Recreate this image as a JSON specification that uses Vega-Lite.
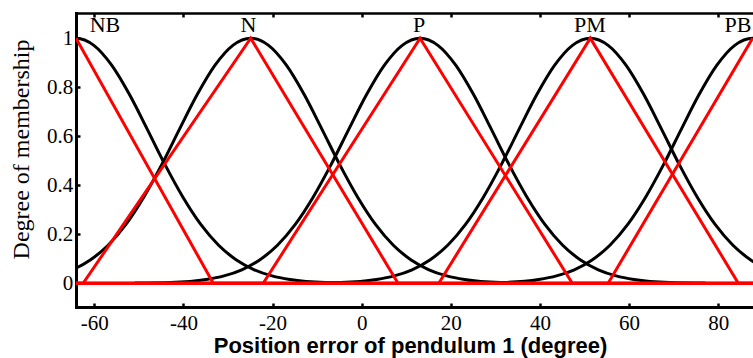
{
  "$schema": "https://vega.github.io/schema/vega-lite/v6.json",
  "width": 677,
  "height": 294,
  "autosize": "none",
  "padding": {"left": 76, "top": 13, "right": 0, "bottom": 51},
  "background": "white",
  "config": {"view": {"stroke": null}, "font": "Liberation Serif"},
  "datasets": {
    "gauss": [
      {"set": "NB", "x": -68.1, "mu": 0.971}, {"set": "NB", "x": -64.1, "mu": 1}, {"set": "NB", "x": -60.1, "mu": 0.971},
      {"set": "NB", "x": -56.1, "mu": 0.89}, {"set": "NB", "x": -52.1, "mu": 0.77}, {"set": "NB", "x": -48.1, "mu": 0.628},
      {"set": "NB", "x": -44.1, "mu": 0.483}, {"set": "NB", "x": -40.1, "mu": 0.351}, {"set": "NB", "x": -36.1, "mu": 0.24},
      {"set": "NB", "x": -32.1, "mu": 0.155}, {"set": "NB", "x": -28.1, "mu": 0.095}, {"set": "NB", "x": -24.1, "mu": 0.055},
      {"set": "NB", "x": -20.1, "mu": 0.03}, {"set": "NB", "x": -16.1, "mu": 0.015}, {"set": "NB", "x": -8.1, "mu": 0.003},
      {"set": "NB", "x": -0.1, "mu": 0.001},

      {"set": "N", "x": -68.9, "mu": 0.03}, {"set": "N", "x": -64.9, "mu": 0.055}, {"set": "N", "x": -60.9, "mu": 0.095},
      {"set": "N", "x": -56.9, "mu": 0.155}, {"set": "N", "x": -52.9, "mu": 0.24}, {"set": "N", "x": -48.9, "mu": 0.351},
      {"set": "N", "x": -44.9, "mu": 0.483}, {"set": "N", "x": -40.9, "mu": 0.628}, {"set": "N", "x": -36.9, "mu": 0.77},
      {"set": "N", "x": -32.9, "mu": 0.89}, {"set": "N", "x": -28.9, "mu": 0.971}, {"set": "N", "x": -24.9, "mu": 1},
      {"set": "N", "x": -20.9, "mu": 0.971}, {"set": "N", "x": -16.9, "mu": 0.89}, {"set": "N", "x": -12.9, "mu": 0.77},
      {"set": "N", "x": -8.9, "mu": 0.628}, {"set": "N", "x": -4.9, "mu": 0.483}, {"set": "N", "x": -0.9, "mu": 0.351},
      {"set": "N", "x": 3.1, "mu": 0.24}, {"set": "N", "x": 7.1, "mu": 0.155}, {"set": "N", "x": 11.1, "mu": 0.095},
      {"set": "N", "x": 15.1, "mu": 0.055}, {"set": "N", "x": 19.1, "mu": 0.03}, {"set": "N", "x": 23.1, "mu": 0.015},
      {"set": "N", "x": 31.1, "mu": 0.003}, {"set": "N", "x": 39.1, "mu": 0.001},

      {"set": "P", "x": -50.9, "mu": 0.001}, {"set": "P", "x": -42.9, "mu": 0.003}, {"set": "P", "x": -34.9, "mu": 0.015},
      {"set": "P", "x": -30.9, "mu": 0.03}, {"set": "P", "x": -26.9, "mu": 0.055}, {"set": "P", "x": -22.9, "mu": 0.095},
      {"set": "P", "x": -18.9, "mu": 0.155}, {"set": "P", "x": -14.9, "mu": 0.24}, {"set": "P", "x": -10.9, "mu": 0.351},
      {"set": "P", "x": -6.9, "mu": 0.483}, {"set": "P", "x": -2.9, "mu": 0.628}, {"set": "P", "x": 1.1, "mu": 0.77},
      {"set": "P", "x": 5.1, "mu": 0.89}, {"set": "P", "x": 9.1, "mu": 0.971}, {"set": "P", "x": 13.1, "mu": 1},
      {"set": "P", "x": 17.1, "mu": 0.971}, {"set": "P", "x": 21.1, "mu": 0.89}, {"set": "P", "x": 25.1, "mu": 0.77},
      {"set": "P", "x": 29.1, "mu": 0.628}, {"set": "P", "x": 33.1, "mu": 0.483}, {"set": "P", "x": 37.1, "mu": 0.351},
      {"set": "P", "x": 41.1, "mu": 0.24}, {"set": "P", "x": 45.1, "mu": 0.155}, {"set": "P", "x": 49.1, "mu": 0.095},
      {"set": "P", "x": 53.1, "mu": 0.055}, {"set": "P", "x": 57.1, "mu": 0.03}, {"set": "P", "x": 61.1, "mu": 0.015},
      {"set": "P", "x": 69.1, "mu": 0.003}, {"set": "P", "x": 77.1, "mu": 0.001},

      {"set": "PM", "x": -12.7, "mu": 0.001}, {"set": "PM", "x": -4.7, "mu": 0.003}, {"set": "PM", "x": 3.3, "mu": 0.015},
      {"set": "PM", "x": 7.3, "mu": 0.03}, {"set": "PM", "x": 11.3, "mu": 0.055}, {"set": "PM", "x": 15.3, "mu": 0.095},
      {"set": "PM", "x": 19.3, "mu": 0.155}, {"set": "PM", "x": 23.3, "mu": 0.24}, {"set": "PM", "x": 27.3, "mu": 0.351},
      {"set": "PM", "x": 31.3, "mu": 0.483}, {"set": "PM", "x": 35.3, "mu": 0.628}, {"set": "PM", "x": 39.3, "mu": 0.77},
      {"set": "PM", "x": 43.3, "mu": 0.89}, {"set": "PM", "x": 47.3, "mu": 0.971}, {"set": "PM", "x": 51.3, "mu": 1},
      {"set": "PM", "x": 55.3, "mu": 0.971}, {"set": "PM", "x": 59.3, "mu": 0.89}, {"set": "PM", "x": 63.3, "mu": 0.77},
      {"set": "PM", "x": 67.3, "mu": 0.628}, {"set": "PM", "x": 71.3, "mu": 0.483}, {"set": "PM", "x": 75.3, "mu": 0.351},
      {"set": "PM", "x": 79.3, "mu": 0.24}, {"set": "PM", "x": 83.3, "mu": 0.155}, {"set": "PM", "x": 87.3, "mu": 0.095},
      {"set": "PM", "x": 91.3, "mu": 0.055},

      {"set": "PB", "x": 23.7, "mu": 0.001}, {"set": "PB", "x": 31.7, "mu": 0.003}, {"set": "PB", "x": 39.7, "mu": 0.015},
      {"set": "PB", "x": 43.7, "mu": 0.03}, {"set": "PB", "x": 47.7, "mu": 0.055}, {"set": "PB", "x": 51.7, "mu": 0.095},
      {"set": "PB", "x": 55.7, "mu": 0.155}, {"set": "PB", "x": 59.7, "mu": 0.24}, {"set": "PB", "x": 63.7, "mu": 0.351},
      {"set": "PB", "x": 67.7, "mu": 0.483}, {"set": "PB", "x": 71.7, "mu": 0.628}, {"set": "PB", "x": 75.7, "mu": 0.77},
      {"set": "PB", "x": 79.7, "mu": 0.89}, {"set": "PB", "x": 83.7, "mu": 0.971}, {"set": "PB", "x": 87.7, "mu": 1},
      {"set": "PB", "x": 91.7, "mu": 0.971}
    ],
    "tri": [
      {"set": "NB", "x": -64.1, "mu": 1}, {"set": "NB", "x": -33.3, "mu": 0}, {"set": "NB", "x": 87.8, "mu": 0},
      {"set": "N", "x": -64.1, "mu": 0}, {"set": "N", "x": -62.5, "mu": 0}, {"set": "N", "x": -24.9, "mu": 1},
      {"set": "N", "x": 8.15, "mu": 0}, {"set": "N", "x": 87.8, "mu": 0},
      {"set": "P", "x": -64.1, "mu": 0}, {"set": "P", "x": -22.1, "mu": 0}, {"set": "P", "x": 13.1, "mu": 1},
      {"set": "P", "x": 47.25, "mu": 0}, {"set": "P", "x": 87.8, "mu": 0},
      {"set": "PM", "x": -64.1, "mu": 0}, {"set": "PM", "x": 17.3, "mu": 0}, {"set": "PM", "x": 51.3, "mu": 1},
      {"set": "PM", "x": 84.5, "mu": 0}, {"set": "PM", "x": 87.8, "mu": 0},
      {"set": "PB", "x": -64.1, "mu": 0}, {"set": "PB", "x": 55.3, "mu": 0}, {"set": "PB", "x": 87.7, "mu": 1}
    ],
    "labels": [
      {"label": "NB", "x": -57.6, "mu": 1.027},
      {"label": "N", "x": -25.4, "mu": 1.027},
      {"label": "P", "x": 12.9, "mu": 1.027},
      {"label": "PM", "x": 51.2, "mu": 1.027},
      {"label": "PB", "x": 84.4, "mu": 1.027}
    ]
  },
  "layer": [
    {
      "data": {"name": "gauss"},
      "mark": {"type": "line", "color": "#000000", "strokeWidth": 3, "interpolate": "monotone", "clip": true},
      "encoding": {
        "x": {
          "field": "x", "type": "quantitative",
          "scale": {"domain": [-64.1, 87.8], "nice": false, "zero": false},
          "axis": {
            "orient": "bottom", "values": [-60, -40, -20, 0, 20, 40, 60, 80],
            "labelExpr": "'' + datum.value", "grid": false,
            "tickSize": -4, "tickWidth": 2.5, "tickColor": "#000000",
            "domainColor": "#000000", "domainWidth": 3, "domainCap": "square",
            "labelFont": "Liberation Serif", "labelFontSize": 21, "labelColor": "#000000",
            "labelPadding": 9.2, "labelFlush": false, "labelOverlap": false,
            "title": "Position error of pendulum 1 (degree)",
            "titleFont": "Liberation Sans", "titleFontSize": 22, "titleFontWeight": "bold", "titleColor": "#000000",
            "titleX": 334, "titleY": 45, "titleAlign": "center", "titleBaseline": "alphabetic"
          }
        },
        "y": {
          "field": "mu", "type": "quantitative",
          "scale": {"domain": [-0.097, 1.103], "nice": false, "zero": false},
          "axis": {
            "orient": "left", "values": [0, 0.2, 0.4, 0.6, 0.8, 1], "format": "~g", "grid": false,
            "tickSize": -4, "tickWidth": 2.5, "tickColor": "#000000",
            "domainColor": "#000000", "domainWidth": 3, "domainCap": "square",
            "labelFont": "Liberation Serif", "labelFontSize": 21, "labelColor": "#000000",
            "labelPadding": 7.3, "labelOverlap": false,
            "title": "Degree of membership",
            "titleFont": "Liberation Serif", "titleFontSize": 24, "titleFontWeight": "normal", "titleColor": "#000000",
            "titleAngle": -90, "titleX": -47.7, "titleY": 136, "titleAlign": "center", "titleBaseline": "alphabetic"
          }
        },
        "detail": {"field": "set", "type": "nominal"}
      }
    },
    {
      "data": {"name": "tri"},
      "mark": {"type": "line", "color": "#ff0000", "strokeWidth": 3, "clip": true},
      "encoding": {
        "x": {
          "field": "x", "type": "quantitative",
          "axis": {
            "orient": "top", "values": [-60, -40, -20, 0, 20, 40, 60, 80], "labels": false, "grid": false,
            "tickSize": -4, "tickWidth": 2.5, "tickColor": "#000000",
            "domainColor": "#000000", "domainWidth": 2.3, "title": null
          }
        },
        "y": {"field": "mu", "type": "quantitative", "axis": null},
        "detail": {"field": "set", "type": "nominal"}
      }
    },
    {
      "data": {"name": "labels"},
      "mark": {"type": "text", "font": "Liberation Serif", "fontSize": 22, "color": "#000000", "align": "center", "baseline": "alphabetic"},
      "encoding": {
        "x": {"field": "x", "type": "quantitative", "axis": null},
        "y": {"field": "mu", "type": "quantitative", "axis": null},
        "text": {"field": "label", "type": "nominal"}
      }
    }
  ],
  "resolve": {"axis": {"x": "independent", "y": "independent"}}
}
